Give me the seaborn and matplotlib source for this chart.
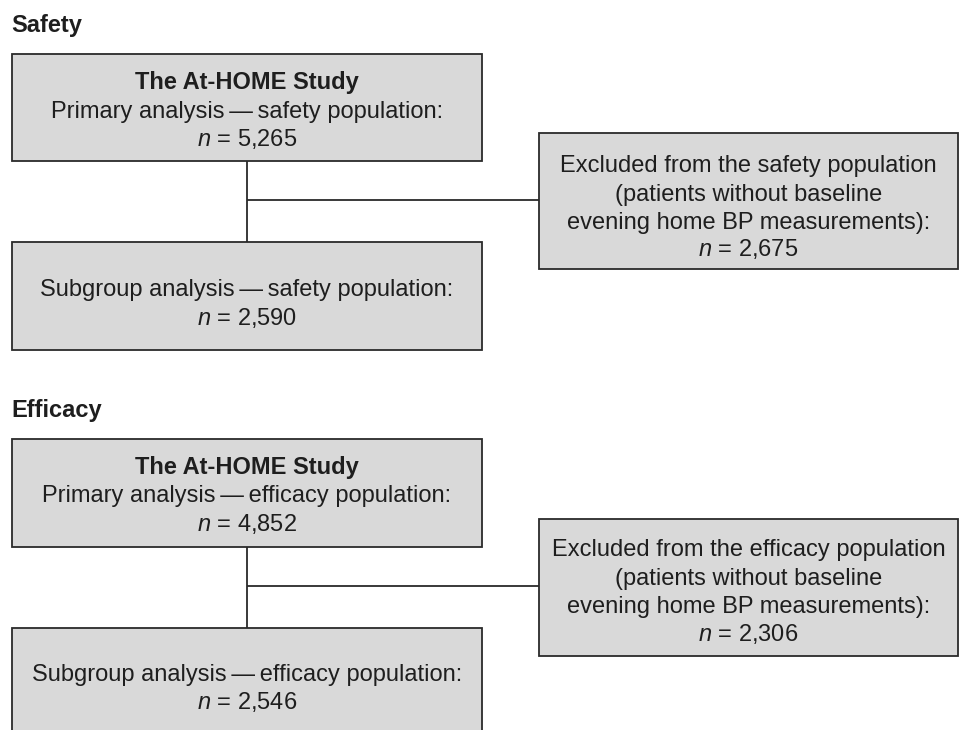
import matplotlib
matplotlib.use("Agg")
import matplotlib.pyplot as plt
from matplotlib.patches import Rectangle
import seaborn as sns

# ---------------- data ----------------
section_titles = ["Safety", "Efficacy"]
population_names = ["safety", "efficacy"]
study_name = "The At-HOME Study"
primary_n = [5265, 4852]
subgroup_n = [2590, 2546]
excluded_n = [2675, 2306]
excluded_reason = ["(patients without baseline", "evening home BP measurements):"]

# ---------------- style ----------------
sns.set_theme(style="white")
plt.rcParams["font.family"] = ["Liberation Sans", "DejaVu Sans"]
plt.rcParams["mathtext.fontset"] = "custom"
plt.rcParams["mathtext.rm"] = "Liberation Sans"
plt.rcParams["mathtext.it"] = "Liberation Sans:italic"

FILL = "#d9d9d9"
EDGE = "#2a2a2a"
TXT = "#1e1e1e"
FS = 17
LW = 1.3
DASH = "\u2009\u2014\u2009"

# layout (pixel space, y downward)
BOX_L, BOX_R = 12, 482
EX_L, EX_R = 539, 958
VX = 247
layouts = [
    dict(title=32, main=(54, 161), main_b=(89, 118, 146), hline=200,
         sub=(242, 350), sub_b=(296, 325), excl=(133, 269), excl_b=(172, 201, 229, 256)),
    dict(title=417, main=(439, 547), main_b=(474, 502, 531), hline=586,
         sub=(628, 780), sub_b=(681, 709), excl=(519, 656), excl_b=(556, 585, 613, 641)),
]

fig = plt.figure(figsize=(9.6, 7.3), dpi=100)
ax = fig.add_axes([0, 0, 1, 1])
ax.set_xlim(0, 960)
ax.set_ylim(730, 0)
ax.axis("off")


def box(x0, x1, y0, y1):
    ax.add_patch(Rectangle((x0, y0), x1 - x0, y1 - y0, facecolor=FILL,
                           edgecolor=EDGE, linewidth=LW, zorder=2))


def line(x, y, txt, bold=False):
    ax.text(x, y, txt, ha="center", va="baseline", fontsize=FS, color=TXT,
            fontweight="bold" if bold else "normal", zorder=3)


def ntext(v):
    return r"$n$" + " = " + f"{v:,}"


for i, L in enumerate(layouts):
    pop = population_names[i]
    ax.text(11, L["title"], section_titles[i], ha="left", va="baseline",
            fontsize=FS, fontweight="bold", color=TXT)

    # connectors
    ax.plot([VX, VX], [L["main"][1], L["sub"][0]], color=EDGE, lw=LW, zorder=1,
            solid_capstyle="butt")
    ax.plot([VX, EX_L], [L["hline"], L["hline"]], color=EDGE, lw=LW, zorder=1,
            solid_capstyle="butt")

    # main box
    box(BOX_L, BOX_R, *L["main"])
    cx = (BOX_L + BOX_R) / 2
    line(cx, L["main_b"][0], study_name, bold=True)
    line(cx, L["main_b"][1], f"Primary analysis{DASH}{pop} population:")
    line(cx, L["main_b"][2], ntext(primary_n[i]))

    # subgroup box
    box(BOX_L, BOX_R, *L["sub"])
    line(cx, L["sub_b"][0], f"Subgroup analysis{DASH}{pop} population:")
    line(cx, L["sub_b"][1], ntext(subgroup_n[i]))

    # excluded box
    box(EX_L, EX_R, *L["excl"])
    ex = (EX_L + EX_R) / 2
    line(ex, L["excl_b"][0], f"Excluded from the {pop} population")
    line(ex, L["excl_b"][1], excluded_reason[0])
    line(ex, L["excl_b"][2], excluded_reason[1])
    line(ex, L["excl_b"][3], ntext(excluded_n[i]))

fig.savefig("out.png", dpi=100, facecolor="white")
